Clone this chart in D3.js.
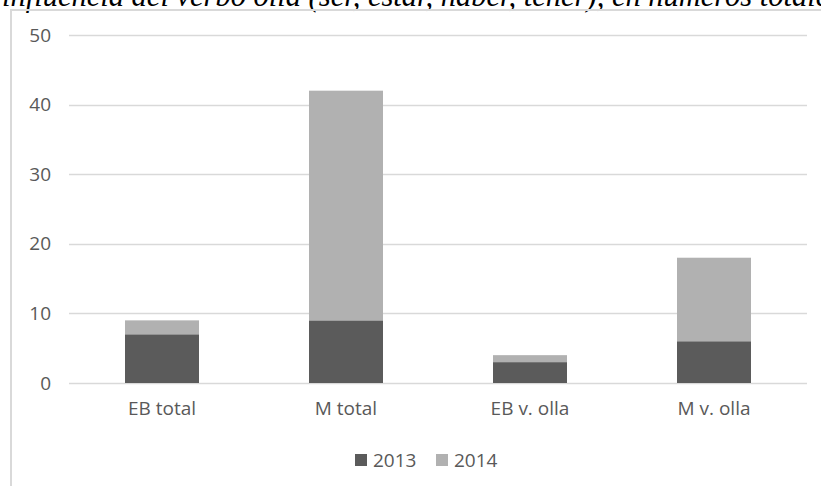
<!DOCTYPE html>
<html><head><meta charset="utf-8">
<script src="https://cdn.jsdelivr.net/npm/d3@7"></script>
<style>body{margin:0;background:#fff;}svg{display:block;}
.ttl{font-family:"Liberation Serif","Times New Roman",Times,"DejaVu Serif",serif;font-style:italic;font-size:30.5px;}
</style>
</head><body>
<script>
const categories = ["EB total", "M total", "EB v. olla", "M v. olla"];
const series2013 = [7, 9, 3, 6];
const series2014 = [2, 33, 1, 12];
const seriesNames = ["2013", "2014"];
const yTicks = [0, 10, 20, 30, 40, 50];
const titleText = "influencia del verbo olla (ser, estar, haber, tener), en números totales";

const W = 821, H = 486;
const colors = {"2013": "#5b5b5b", "2014": "#b1b1b1"};
const svg = d3.select("body").append("svg").attr("width", W).attr("height", H);

// title (cut off at top)
svg.append("text").attr("class", "ttl").attr("x", 2).attr("y", 6)
  .attr("fill", "#000")
  .text(titleText);

// frame
svg.append("path").attr("d", `M11,${H} L11,10 L${W},10`).attr("fill", "none")
  .attr("stroke", "#d9d9d9").attr("stroke-width", 2);

const x = d3.scaleBand().domain(categories).range([70, 806]).paddingInner(0.6).paddingOuter(0.3);
const y = d3.scaleLinear().domain([0, 50]).range([383, 35]);

// gridlines
svg.append("g").selectAll("line").data(yTicks).join("line")
  .attr("x1", 69).attr("x2", 807)
  .attr("y1", d => Math.round(y(d)) + 0.5).attr("y2", d => Math.round(y(d)) + 0.5)
  .attr("stroke", "#d9d9d9").attr("stroke-width", 1.3);

const font = "'Open Sans', 'Liberation Sans', sans-serif";
svg.append("g").selectAll("text").data(yTicks).join("text")
  .attr("x", 51).attr("y", d => y(d)).attr("dy", "0.35em")
  .attr("text-anchor", "end").style("font-family", font).style("font-size", "19px")
  .attr("fill", "#595959").text(d => d);

const data = categories.map((c, i) => ({cat: c, "2013": series2013[i], "2014": series2014[i]}));
const stack = d3.stack().keys(seriesNames)(data);

const bw = 74;
svg.append("g").selectAll("g").data(stack).join("g")
  .attr("fill", d => colors[d.key])
  .selectAll("rect").data(d => d).join("rect")
  .attr("x", d => x(d.data.cat) + x.bandwidth() / 2 - bw / 2)
  .attr("width", bw)
  .attr("y", d => y(d[1]))
  .attr("height", d => y(d[0]) - y(d[1]));

svg.append("g").selectAll("text").data(categories).join("text")
  .attr("x", d => x(d) + x.bandwidth() / 2).attr("y", 415)
  .attr("text-anchor", "middle").style("font-family", font).style("font-size", "19px")
  .attr("fill", "#595959").text(d => d);

// legend
const legend = svg.append("g");
const items = [{k: "2013", x: 355}, {k: "2014", x: 436}];
items.forEach(it => {
  legend.append("rect").attr("x", it.x).attr("y", 454).attr("width", 12).attr("height", 12).attr("fill", colors[it.k]);
  legend.append("text").attr("x", it.x + 18).attr("y", 467)
    .style("font-family", font).style("font-size", "19px").attr("fill", "#595959").text(it.k);
});
</script>
</body></html>
